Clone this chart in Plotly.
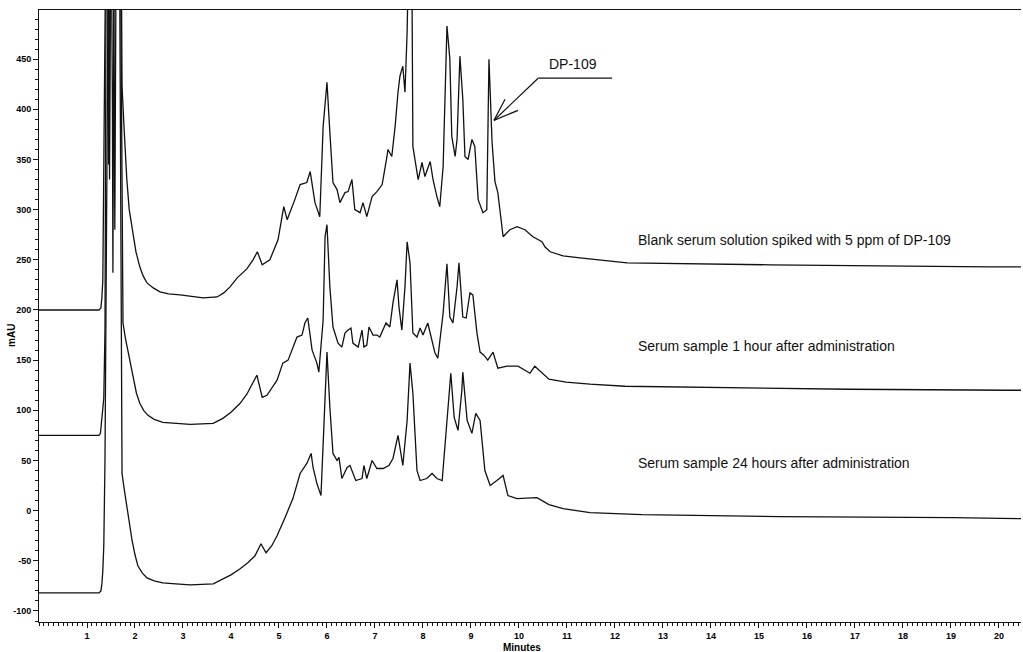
import plotly.graph_objects as go

# --- Chromatogram data (retention time in minutes, absorbance in mAU) ---

# Blank serum solution spiked with 5 ppm of DP-109
minutes_spiked = [
    0, 1.25, 1.29, 1.31, 1.33, 1.36, 1.40, 1.43, 1.45, 1.47, 1.50, 1.53, 1.54, 1.56, 1.60, 1.64,
    1.66, 1.71, 1.73, 1.78, 1.83, 1.88, 1.96, 2.02, 2.10, 2.17, 2.25, 2.38, 2.52, 2.70, 2.94,
    3.20, 3.42, 3.71, 3.85, 3.98, 4.13, 4.33, 4.46,
    4.55, 4.65, 4.81, 4.98, 5.10, 5.17, 5.33, 5.44, 5.58, 5.65, 5.75, 5.85, 5.92, 6.00, 6.06,
    6.125, 6.21, 6.27, 6.375, 6.44, 6.52, 6.58, 6.69, 6.75, 6.83, 6.94, 7.04, 7.15, 7.25, 7.27,
    7.35, 7.42, 7.48, 7.52, 7.58, 7.625, 7.67, 7.69, 7.75, 7.77, 7.79, 7.875, 7.90, 7.98, 8.04,
    8.15, 8.21, 8.29, 8.35, 8.42, 8.50, 8.56, 8.60, 8.67, 8.71, 8.77, 8.83, 8.875, 8.94, 9.02,
    9.08, 9.15, 9.25, 9.33, 9.375, 9.44, 9.50, 9.56, 9.67, 9.81, 9.96, 10.125, 10.23, 10.29,
    10.48, 10.54, 10.65, 10.92, 11.27, 11.96, 12.25, 15.23, 17.1, 19.81, 20.46,
]
mau_spiked = [
    200, 200, 202, 212, 230, 520, 620, 560, 345, 560, 640, 400, 237, 500, 650, 520,
    600, 600, 423, 375, 330, 300, 277, 258, 243, 234, 227, 222, 218, 216, 215,
    213, 212, 213, 217, 223, 232, 241, 250,
    258, 245, 250, 270, 303, 290, 310, 325, 327, 338, 307, 293, 383, 427, 377,
    327, 320, 307, 317, 318, 330, 300, 297, 307, 293, 313, 318, 325, 353, 360,
    353, 383, 417, 433, 443, 417, 477, 530, 560, 530, 363, 337, 330, 347, 333,
    348, 330, 313, 303, 343, 483, 450, 373, 353, 370, 453, 410, 353, 350, 370,
    363, 310, 297, 300, 450, 367, 328, 317, 273, 280, 283, 280, 275, 273,
    268, 263, 258, 254, 252, 248, 247, 245, 244, 243, 243,
]

# Serum sample 1 hour after administration
minutes_1h = [
    0, 1.25, 1.28, 1.31, 1.33, 1.35, 1.375, 1.40, 1.44, 1.47, 1.50, 1.55, 1.58, 1.61, 1.69,
    1.72, 1.75, 1.80, 1.85, 1.90, 1.96, 2.03, 2.10, 2.18, 2.27, 2.40, 2.58, 2.85, 3.15, 3.63,
    3.83, 4.00, 4.19, 4.33, 4.46, 4.54, 4.65, 4.75, 4.96,
    5.08, 5.19, 5.29, 5.375, 5.48, 5.54, 5.60, 5.69, 5.79, 5.83, 5.92, 5.96, 6.00, 6.06, 6.125,
    6.23, 6.31, 6.375, 6.44, 6.50, 6.54, 6.65, 6.73, 6.77, 6.83, 6.875, 6.96, 7.04, 7.10, 7.23,
    7.31, 7.375, 7.46, 7.50, 7.56, 7.625, 7.67, 7.73, 7.79, 7.875, 7.94, 8.00, 8.10, 8.19, 8.25,
    8.31, 8.42, 8.50, 8.56, 8.625, 8.71, 8.75, 8.83, 8.90, 8.98, 9.04, 9.125, 9.19, 9.27, 9.35,
    9.46, 9.56, 9.75, 9.98, 10.23, 10.33, 10.48, 10.625, 10.98, 11.48, 12.21, 14.0, 16.875,
    20.19, 20.46,
]
mau_1h = [
    75, 75, 77, 95, 108, 112, 180, 560, 620, 330, 600, 600, 280, 600, 620,
    400, 187, 172, 160, 145, 130, 117, 107, 100, 95, 91, 88, 87, 86, 87,
    92, 98, 107, 116, 127, 135, 113, 115, 130,
    147, 150, 163, 173, 175, 187, 192, 160, 147, 138, 190, 273, 285, 223, 183,
    167, 163, 177, 180, 182, 167, 163, 180, 163, 165, 183, 175, 175, 173, 187,
    183, 207, 230, 203, 180, 223, 268, 247, 177, 173, 182, 175, 187, 170, 157,
    152, 197, 246, 193, 187, 223, 247, 193, 192, 217, 215, 177, 158, 155, 150,
    158, 142, 144, 144, 137, 144, 137, 131, 128, 126, 124, 123, 121,
    120, 120,
]

# Serum sample 24 hours after administration
minutes_24h = [
    0, 1.25, 1.29, 1.31, 1.33, 1.35, 1.375, 1.40, 1.44, 1.50, 1.60, 1.67, 1.70, 1.73,
    1.78, 1.83, 1.88, 1.94, 2.00, 2.06, 2.15, 2.25, 2.40, 2.58, 2.85, 3.15, 3.63, 3.83, 4.00,
    4.19, 4.35, 4.50, 4.625, 4.73, 4.85, 4.96, 5.08,
    5.125, 5.29, 5.44, 5.58, 5.67, 5.71, 5.79, 5.875, 5.92, 6.00, 6.06, 6.125, 6.21, 6.25,
    6.31, 6.42, 6.48, 6.54, 6.60, 6.73, 6.77, 6.83, 6.94, 7.04, 7.17, 7.29, 7.375, 7.48,
    7.58, 7.67, 7.73, 7.79, 7.875, 7.94, 8.08, 8.19, 8.29, 8.40, 8.50, 8.58, 8.65, 8.73,
    8.81, 8.83, 8.92, 9.02, 9.10, 9.19, 9.29, 9.40, 9.54, 9.67, 9.77, 9.96, 10.375, 10.625,
    10.92, 11.48, 12.56, 15.44, 19.04, 20.46,
]
mau_24h = [
    -82, -82, -80, -73, -60, -35, 50, 250, 520, 650, 700, 650, 400, 37,
    20, 3, -13, -30, -44, -55, -62, -67, -70, -72, -73, -74, -73, -68, -64,
    -58, -52, -45, -33, -42, -35, -25, -13,
    -7, 12, 37, 47, 57, 43, 27, 15, 73, 158, 103, 57, 50, 53,
    32, 43, 45, 37, 30, 32, 45, 32, 50, 42, 42, 45, 52, 75,
    45, 90, 147, 117, 40, 30, 32, 37, 32, 30, 90, 137, 93, 80,
    120, 138, 90, 77, 97, 90, 40, 25, 30, 35, 15, 12, 13, 6,
    2, -2, -4, -6, -7, -8,
]

trace_labels = [
    "Blank serum solution spiked with 5 ppm of DP-109",
    "Serum sample 1 hour after administration",
    "Serum sample 24 hours after administration",
]
label_levels = [270, 164, 47.5]

y_tick_values = [-100, -50, 0, 50, 100, 150, 200, 250, 300, 350, 400, 450]
y_tick_text = ["-100", "-50", "0", "50", "100", "150", "200", "250", "300", "350", "400", "450"]
x_tick_values = list(range(1, 21))

FONT = "Liberation Sans, Arial, sans-serif"
INK = "#111111"

fig = go.Figure()
for t, v, name in [
    (minutes_spiked, mau_spiked, trace_labels[0]),
    (minutes_1h, mau_1h, trace_labels[1]),
    (minutes_24h, mau_24h, trace_labels[2]),
]:
    fig.add_trace(go.Scatter(
        x=t, y=v, mode="lines", name=name, showlegend=False,
        line=dict(color=INK, width=1.3), hoverinfo="skip",
    ))

# Trace labels to the right of the peaks
for text, level in zip(trace_labels, label_levels):
    fig.add_annotation(
        x=12.44, y=level, xref="x", yref="y", text=text, showarrow=False,
        xanchor="left", yanchor="middle", font=dict(family=FONT, size=14, color=INK),
    )

# DP-109 callout: label, leader line and open arrowhead
fig.add_annotation(
    x=11.125, y=445, xref="x", yref="y", text="DP-109", showarrow=False,
    xanchor="center", yanchor="middle", font=dict(family=FONT, size=14, color=INK),
)
callout_lines = [
    (10.40, 431, 11.94, 431),
    (10.40, 431, 9.48, 389),
    (9.48, 389, 9.71, 410),
    (9.48, 389, 9.98, 399),
]
for x0, y0, x1, y1 in callout_lines:
    fig.add_shape(type="line", x0=x0, y0=y0, x1=x1, y1=y1, xref="x", yref="y",
                  line=dict(color=INK, width=1.2))

# Axis titles
fig.add_annotation(
    x=-0.0275, y=0.469, xref="paper", yref="paper", text="mAU", textangle=-90,
    showarrow=False, xanchor="center", yanchor="middle",
    font=dict(family=FONT, size=10, color="#000000", weight="bold"),
)
fig.add_annotation(
    x=0.492, y=-0.041, xref="paper", yref="paper", text="Minutes",
    showarrow=False, xanchor="center", yanchor="middle",
    font=dict(family=FONT, size=10, color="#000000", weight="bold"),
)

tick_font = dict(family=FONT, size=9, color="#000000", weight="bold")

fig.update_layout(
    width=1023, height=652,
    margin=dict(l=39, r=2, t=10, b=30),
    paper_bgcolor="white", plot_bgcolor="white",
    font=dict(family=FONT, size=10, color=INK),
)
fig.update_xaxes(
    range=[0, 20.46], showgrid=False, zeroline=False,
    showline=True, linecolor=INK, linewidth=1, mirror=True,
    tickmode="array", tickvals=x_tick_values,
    ticks="outside", ticklen=5, tickcolor=INK, tickwidth=1,
    tickfont=tick_font,
    minor=dict(tickmode="linear", tick0=0, dtick=0.1, ticks="outside",
               ticklen=3, tickcolor=INK, tickwidth=1, showgrid=False),
)
fig.update_yaxes(
    range=[-111, 499], showgrid=False, zeroline=False,
    showline=True, linecolor=INK, linewidth=1,
    tickmode="array", tickvals=y_tick_values, ticktext=y_tick_text,
    ticks="outside", ticklen=5, tickcolor=INK, tickwidth=1,
    tickfont=tick_font,
    minor=dict(tickmode="linear", tick0=0, dtick=10, ticks="outside",
               ticklen=3, tickcolor=INK, tickwidth=1, showgrid=False),
)

fig.write_html("out.html")
